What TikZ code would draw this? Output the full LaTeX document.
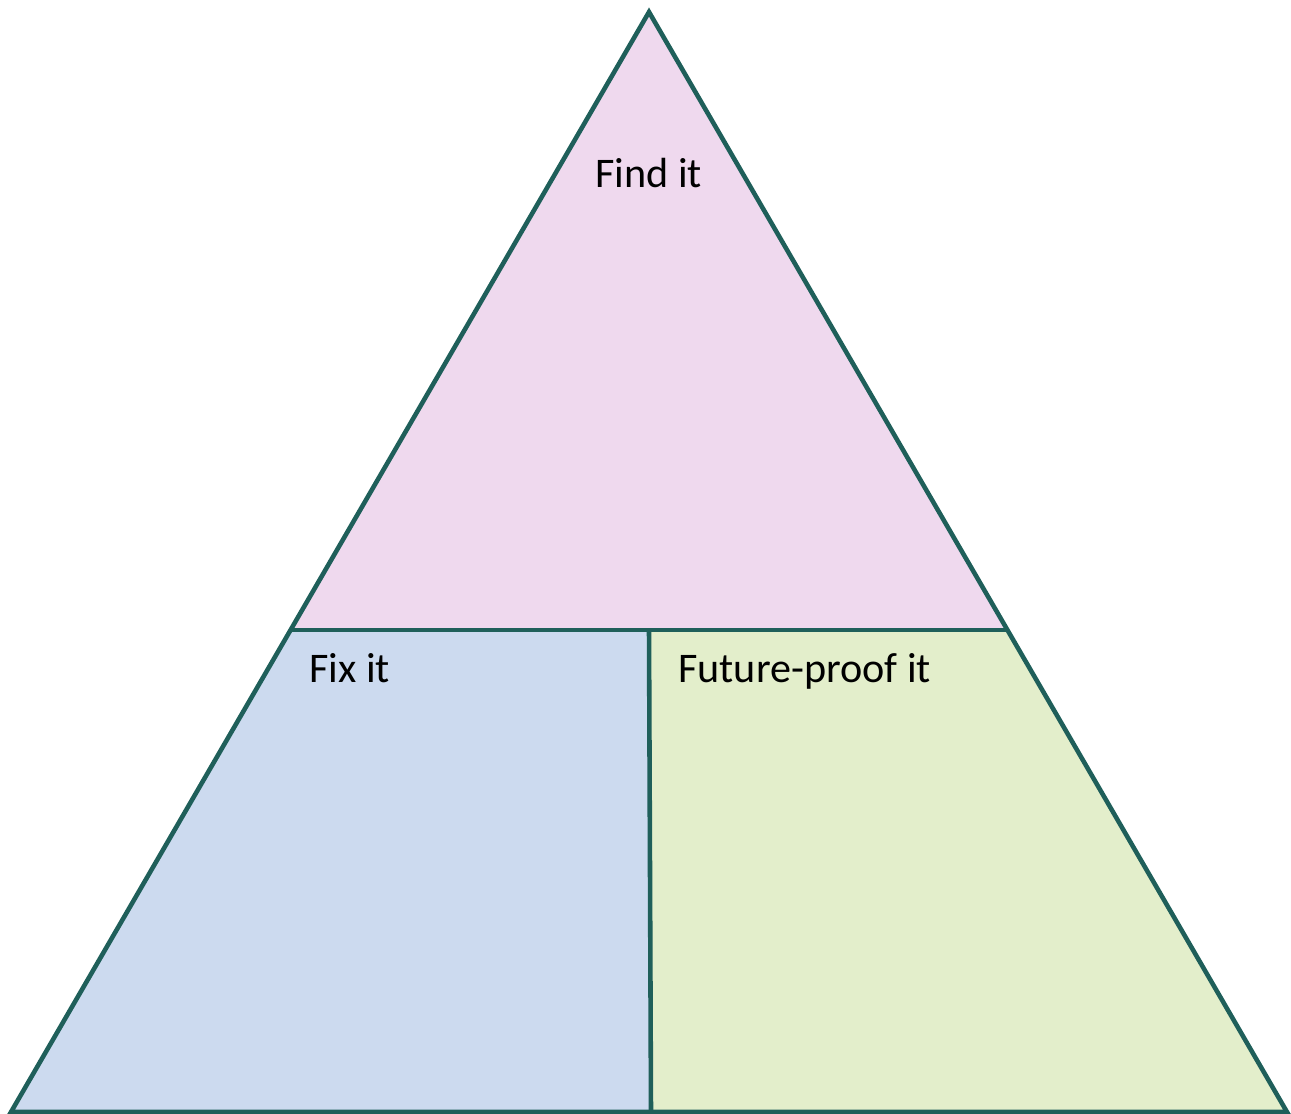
\documentclass[tikz,border=0pt]{standalone}
\usepackage{fontspec}
\setmainfont{Carlito}
\usepackage{xcolor}

\definecolor{edgeteal}{HTML}{1F5F5A}
\definecolor{findpink}{HTML}{EFD9EE}
\definecolor{fixblue}{HTML}{CCDAEF}
\definecolor{futuregreen}{HTML}{E3EECB}

\begin{document}
\begin{tikzpicture}[
  x=0.02cm, y=-0.02cm,
  part/.style={draw=edgeteal, line width=2.6pt, line join=miter},
  label/.style={font=\fontsize{24}{28}\selectfont, text=black, inner sep=0pt, anchor=base west},
]
  \useasboundingbox (0,0) rectangle (1291,1113);

  % Corners
  \coordinate (apex) at (649,12);
  \coordinate (midL) at (292,630);
  \coordinate (midC) at (649,630);
  \coordinate (midR) at (1006,630);
  \coordinate (botL) at (11,1112);
  \coordinate (botC) at (651,1112);
  \coordinate (botR) at (1287,1112);

  % Regions
  \fill[findpink] (apex) -- (midR) -- (midL) -- cycle;
  \fill[fixblue] (midL) -- (midC) -- (botC) -- (botL) -- cycle;
  \fill[futuregreen] (midC) -- (midR) -- (botR) -- (botC) -- cycle;

  % Outline and dividers
  \draw[part] (apex) -- (botR) -- (botL) -- cycle;
  \draw[part] (midL) -- (midR);
  \draw[part] (midC) -- (botC);

  % Labels
  \node[label] (find) at (595,187) {Find it};
  \node[label] (fix) at (309,682) {Fix it};
  \node[label] (future) at (678,682) {Future-proof it};
\end{tikzpicture}
\end{document}
